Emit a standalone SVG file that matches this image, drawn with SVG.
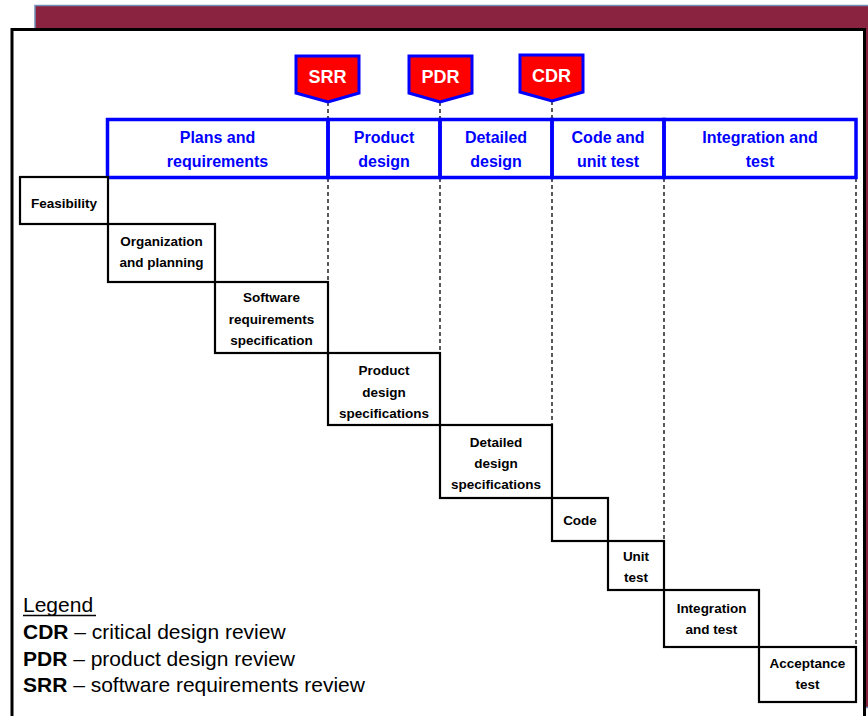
<svg xmlns="http://www.w3.org/2000/svg" width="868" height="716" viewBox="0 0 868 716">
<style>
.step{fill:#fff;stroke:#000;stroke-width:2.2}
.st{font-family:"Liberation Sans",Arial,sans-serif;font-weight:bold;font-size:13.5px;fill:#000;text-anchor:middle}
.ph{fill:none;stroke:#0000ff;stroke-width:3.5}
.pt{font-family:"Liberation Sans",Arial,sans-serif;font-weight:bold;font-size:16px;fill:#0000ff;text-anchor:middle}
.mk{fill:#ff0000;stroke:#0000ff;stroke-width:3;stroke-linejoin:miter}
.mt{font-family:"Liberation Sans",Arial,sans-serif;font-weight:bold;font-size:18px;fill:#fff;text-anchor:middle}
.dash{stroke:#000;stroke-width:1.3;stroke-dasharray:4 3;fill:none}
.lg{font-family:"Liberation Sans",Arial,sans-serif;font-size:21px;fill:#000}
</style>
<rect width="868" height="716" fill="#fff"/>
<g id="background">
<rect x="35" y="5.5" width="850" height="702" fill="#8a2340" stroke="#7090b8" stroke-width="1.5"/>
<rect x="12" y="29.5" width="852.5" height="720" fill="#fff" stroke="#000" stroke-width="3"/>
</g>
<g id="connectors">
<line class="dash" x1="328" y1="102" x2="328" y2="118"/>
<line class="dash" x1="440" y1="102" x2="440" y2="118"/>
<line class="dash" x1="552" y1="101" x2="552" y2="118"/>
<line class="dash" x1="328" y1="178" x2="328" y2="353"/>
<line class="dash" x1="440" y1="178" x2="440" y2="425"/>
<line class="dash" x1="552" y1="178" x2="552" y2="498"/>
<line class="dash" x1="664" y1="178" x2="664" y2="541"/>
<line class="dash" x1="856" y1="178" x2="856" y2="647"/>
</g>
<g id="phase-plans"><rect class="ph" x="107.5" y="119.5" width="220.5" height="58"/><text class="pt" x="217.5" y="143">Plans and</text><text class="pt" x="217.5" y="167">requirements</text></g>
<g id="phase-product"><rect class="ph" x="328" y="119.5" width="112" height="58"/><text class="pt" x="384" y="143">Product</text><text class="pt" x="384" y="167">design</text></g>
<g id="phase-detailed"><rect class="ph" x="440" y="119.5" width="112" height="58"/><text class="pt" x="496" y="143">Detailed</text><text class="pt" x="496" y="167">design</text></g>
<g id="phase-code"><rect class="ph" x="552" y="119.5" width="112" height="58"/><text class="pt" x="608" y="143">Code and</text><text class="pt" x="608" y="167">unit test</text></g>
<g id="phase-integration"><rect class="ph" x="664" y="119.5" width="192" height="58"/><text class="pt" x="760" y="143">Integration and</text><text class="pt" x="760" y="167">test</text></g>
<g id="marker-srr"><polygon class="mk" points="296,56 359,56 359,93 328,102 296,93"/><text class="mt" x="327.5" y="83">SRR</text></g>
<g id="marker-pdr"><polygon class="mk" points="409,56 472,56 472,93 440,102 409,93"/><text class="mt" x="440.5" y="83">PDR</text></g>
<g id="marker-cdr"><polygon class="mk" points="520,55 583,55 583,92 552,101 520,92"/><text class="mt" x="551.5" y="82">CDR</text></g>
<g id="step-feasibility"><rect class="step" x="20" y="177" width="88" height="47"/><text class="st" x="64" y="208">Feasibility</text></g>
<g id="step-organization"><rect class="step" x="108" y="224" width="107" height="58"/><text class="st" x="161.5" y="246">Organization</text><text class="st" x="161.5" y="267">and planning</text></g>
<g id="step-srs"><rect class="step" x="215" y="282" width="113" height="71"/><text class="st" x="271.5" y="302">Software</text><text class="st" x="271.5" y="324">requirements</text><text class="st" x="271.5" y="345">specification</text></g>
<g id="step-pds"><rect class="step" x="328" y="353" width="112" height="72"/><text class="st" x="384" y="375">Product</text><text class="st" x="384" y="397">design</text><text class="st" x="384" y="418">specifications</text></g>
<g id="step-dds"><rect class="step" x="440" y="425" width="112" height="73"/><text class="st" x="496" y="447">Detailed</text><text class="st" x="496" y="468">design</text><text class="st" x="496" y="489">specifications</text></g>
<g id="step-code"><rect class="step" x="552" y="498" width="56" height="43"/><text class="st" x="580" y="525">Code</text></g>
<g id="step-unit"><rect class="step" x="608" y="541" width="56" height="49"/><text class="st" x="636" y="561">Unit</text><text class="st" x="636" y="582">test</text></g>
<g id="step-integration"><rect class="step" x="664" y="590" width="95" height="57"/><text class="st" x="711.5" y="613">Integration</text><text class="st" x="711.5" y="634">and test</text></g>
<g id="step-acceptance"><rect class="step" x="759" y="647" width="97" height="55"/><text class="st" x="807.5" y="668">Acceptance</text><text class="st" x="807.5" y="689">test</text></g>
<g id="legend">
<text class="lg" x="23" y="612">Legend</text>
<line x1="23" y1="615.5" x2="96" y2="615.5" stroke="#000" stroke-width="1.5"/>
<text class="lg" x="23" y="639"><tspan font-weight="bold">CDR</tspan> – critical design review</text>
<text class="lg" x="23" y="666"><tspan font-weight="bold">PDR</tspan> – product design review</text>
<text class="lg" x="23" y="692"><tspan font-weight="bold">SRR</tspan> – software requirements review</text>
</g>
</svg>
